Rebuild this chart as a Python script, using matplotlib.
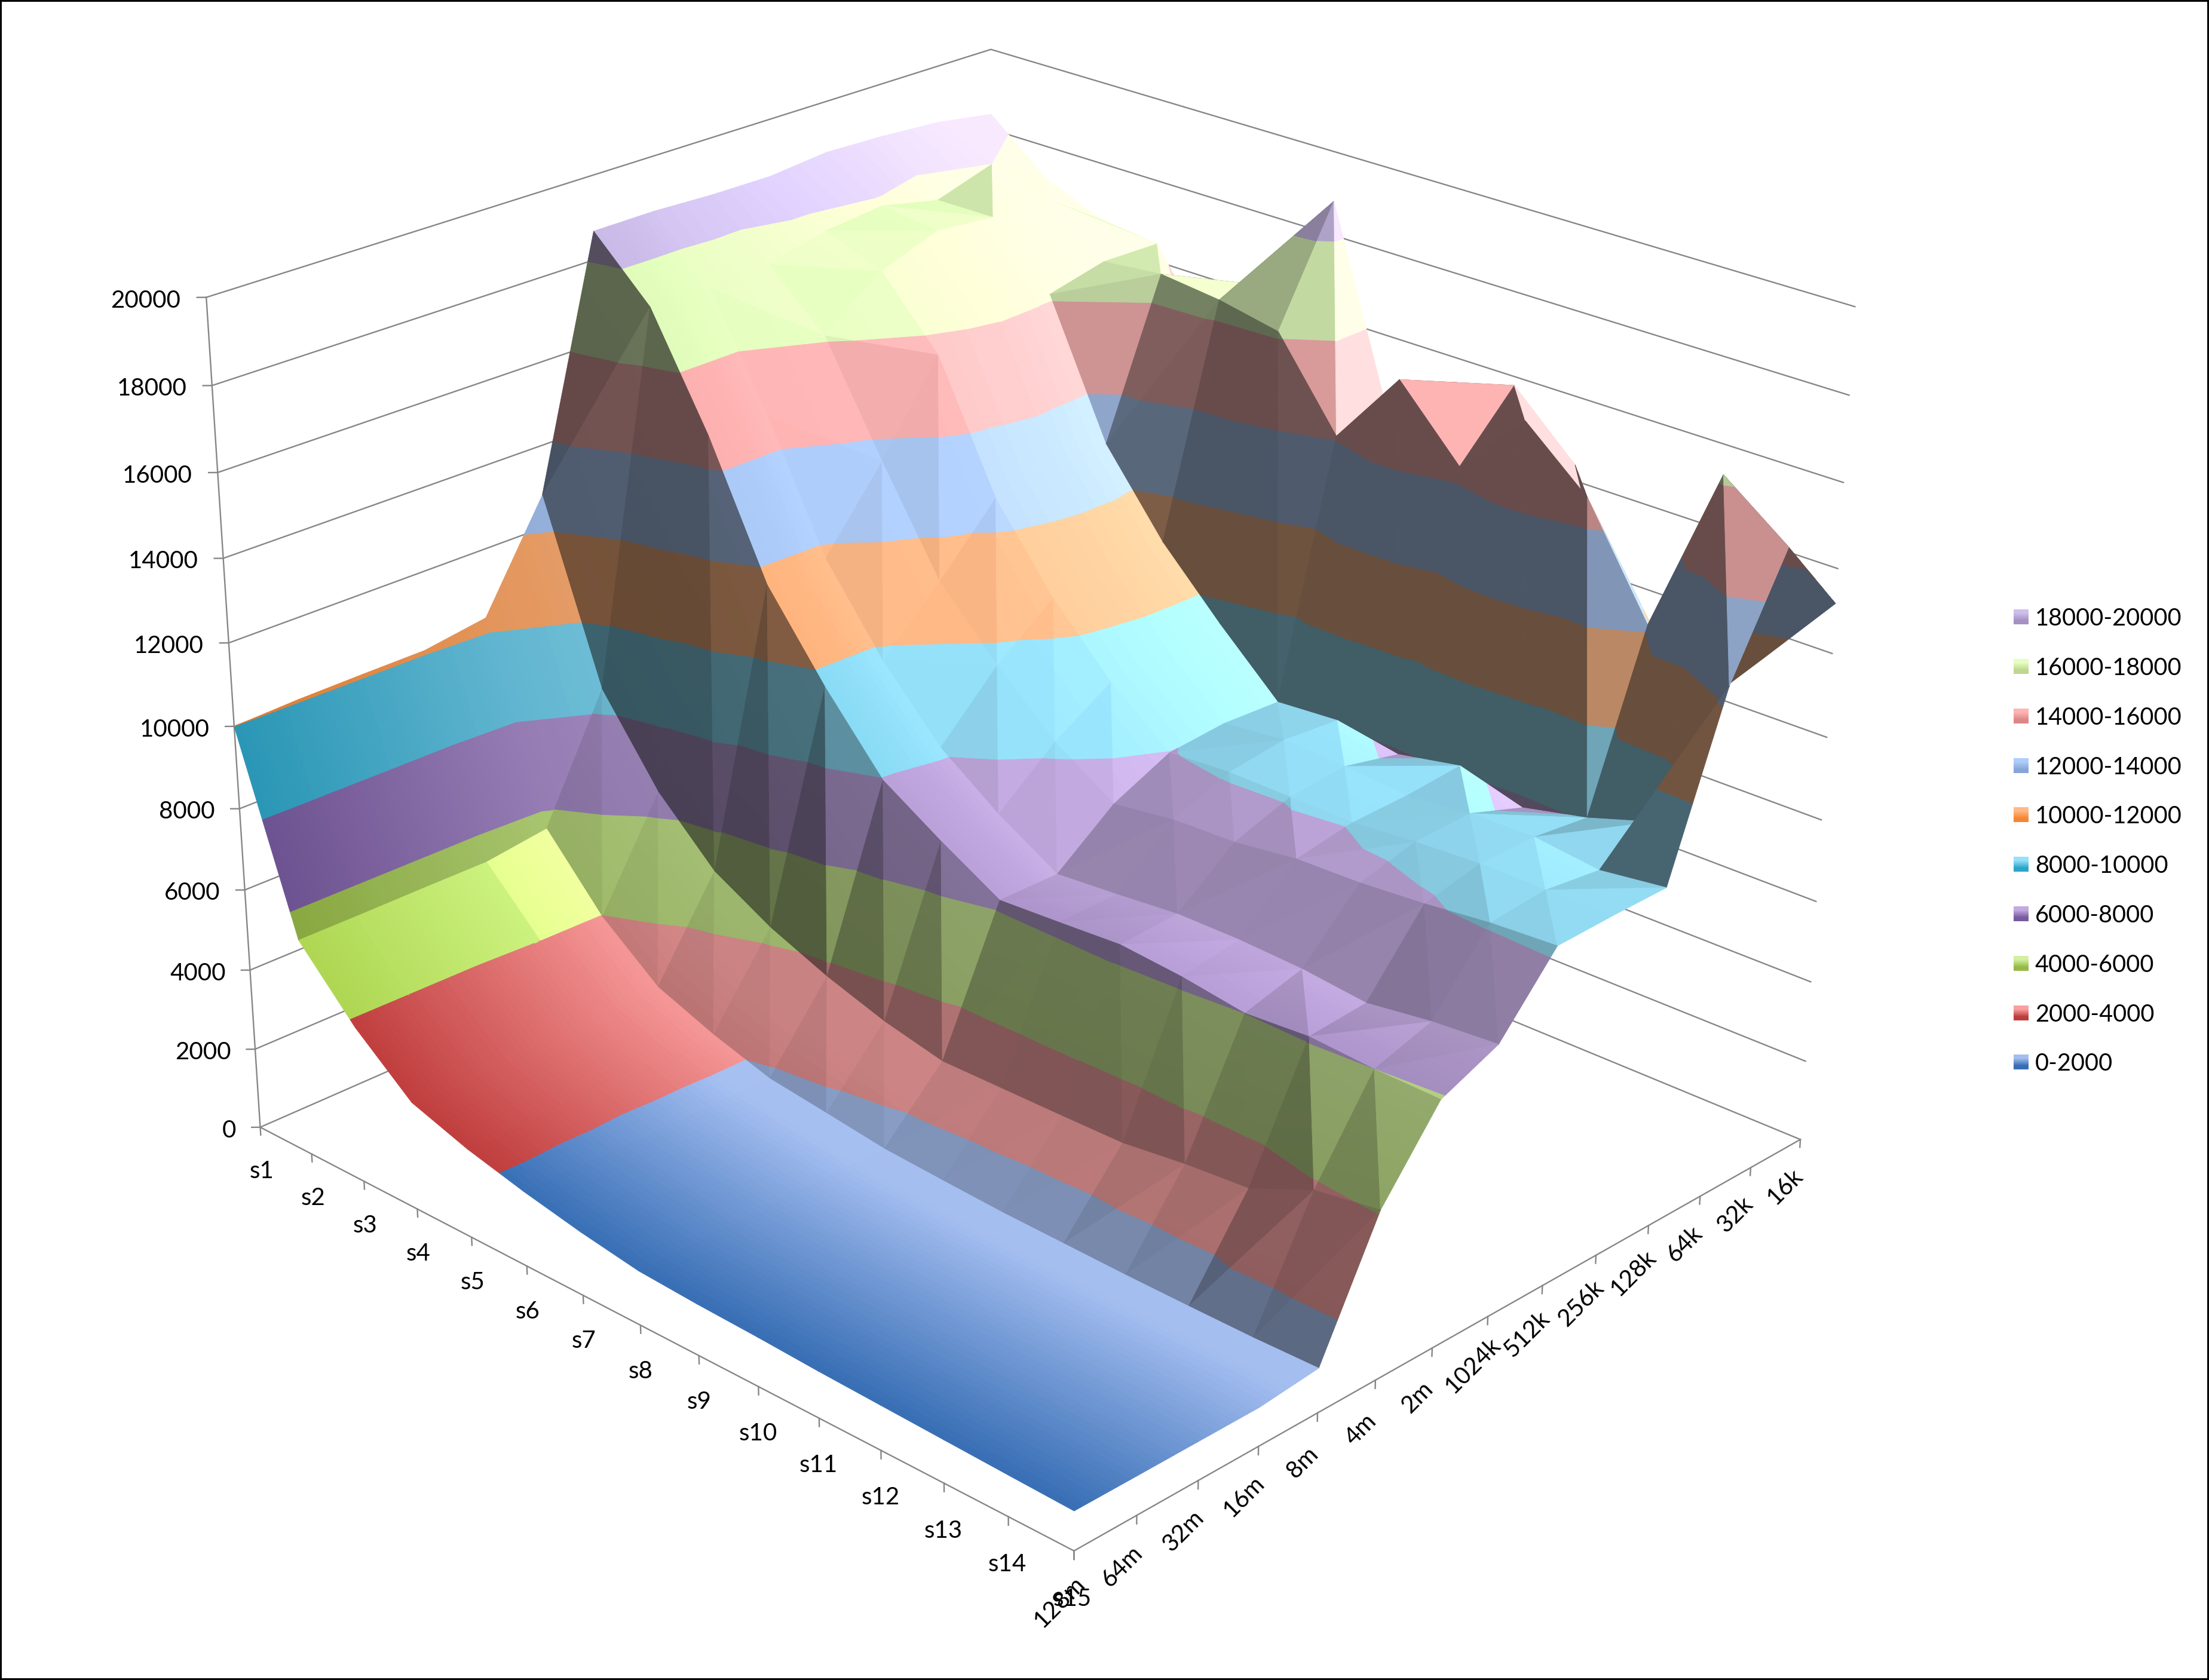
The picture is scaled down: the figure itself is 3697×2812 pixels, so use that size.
# 3D surface of the score per stride (s1..s15) and working set size,
# coloured in 2000-wide bands like a spreadsheet surface chart.
import numpy as np
import matplotlib
matplotlib.use("Agg")
import matplotlib.pyplot as plt
from mpl_toolkits.mplot3d.art3d import Poly3DCollection

plt.rcParams['font.family'] = ['Lato', 'DejaVu Sans']

sizes = ['128m', '64m', '32m', '16m', '8m', '4m', '2m', '1024k', '512k', '256k', '128k', '64k', '32k', '16k']
strides = ['s1', 's2', 's3', 's4', 's5', 's6', 's7', 's8', 's9', 's10', 's11', 's12', 's13', 's14', 's15']

# one list per stride, values run from 128m to 16k
s1 = [10000, 10060, 10080, 10090, 10320, 12790, 18680, 18690, 18630, 18620, 18760, 18710, 18610, 18380]
s2 = [5380, 5380, 5390, 5390, 5600, 8510, 17330, 17300, 17390, 17730, 17880, 17560, 18000, 17200]
s3 = [3860, 3870, 3880, 3950, 3970, 6500, 14730, 14690, 16130, 17210, 17710, 17580, 17560, 16600]
s4 = [2670, 2680, 2700, 2750, 2820, 5100, 11630, 11710, 13550, 15640, 16300, 16140, 16470, 16440]
s5 = [2200, 2210, 2220, 2240, 2260, 4300, 9680, 9730, 11120, 12630, 13180, 12910, 16620, 14300]
s6 = [1850, 1830, 1810, 1810, 1810, 3700, 7960, 8150, 9600, 10680, 11000, 10970, 16450, 16300]
s7 = [1560, 1570, 1590, 1600, 1610, 3220, 7050, 7090, 8270, 9160, 9410, 9450, 16150, 18820]
s8 = [1330, 1340, 1370, 1390, 1400, 2880, 6210, 6210, 7320, 7980, 8110, 8050, 14090, 14010]
s9 = [1250, 1260, 1280, 1290, 1300, 2880, 6290, 6330, 7530, 8080, 8270, 8160, 15950, 15300]
s10 = [1200, 1200, 1210, 1210, 1210, 2880, 6380, 6470, 7580, 8060, 8200, 7890, 14360, 15790]
s11 = [1130, 1140, 1150, 1160, 1160, 2890, 6240, 6470, 7780, 8030, 8070, 8190, 15950, 14380]
s12 = [1080, 1090, 1100, 1100, 1110, 3070, 6010, 6400, 7820, 8170, 8230, 7750, 14640, 9500]
s13 = [1030, 1040, 1060, 1070, 1080, 3180, 6110, 6230, 7940, 8250, 8260, 8100, 12150, 9500]
s14 = [980, 1000, 1020, 1040, 1060, 3840, 6000, 6440, 8110, 8240, 8070, 8600, 16200, 11330]
s15 = [934, 930, 930, 930, 1076, 4080, 5960, 6560, 8200, 8250, 8270, 12400, 15050, 13180]
values = np.array([s1, s2, s3, s4, s5, s6, s7, s8, s9, s10, s11, s12, s13, s14, s15], dtype=float)

z_ticks = [0, 2000, 4000, 6000, 8000, 10000, 12000, 14000, 16000, 18000, 20000]
band_names = ['0-2000', '2000-4000', '4000-6000', '6000-8000', '8000-10000', '10000-12000',
              '12000-14000', '14000-16000', '16000-18000', '18000-20000']
band_light = ['#A5BEF0', '#FAA0A0', '#D2F0A0', '#C3AAE1', '#96E1FA', '#FFB987', '#AFCDFA', '#FFB4B4', '#E4FFBE', '#CDBEEB']
band_dark = ['#376EB4', '#BE3C3C', '#96B946', '#785AA0', '#2DA5C8', '#F58732', '#87A5D7', '#DC8787', '#BED791', '#A591C3']
band_rate = [3.5, 4.5, 7, 7, 7, 7, 7, 7, 7, 7]

W, H = 3697, 2812
fig = plt.figure(figsize=(W / 100, H / 100), dpi=100)
fig.patch.set_facecolor('white')

# camera fitted to the box corners: (stride, size, height/20000) -> pixel
world = [(0, 0, 0), (14, 0, 0), (14, 13, 0), (0, 0, 1), (14, 13, 1), (0, 13, 1), (0, 0, .5), (14, 13, .5), (7, 0, 0), (14, 7, 0)]
pix = [(436, 1886), (1797, 2594), (3013, 1905), (346, 497), (3104, 513), (1658, 83), (391, 1216), (3058, 1235), (1072, 2220), (2490, 2206)]
rows = []
for (X, Y, Z), (u, v) in zip(world, pix):
    rows.append([X, Y, Z, 1, 0, 0, 0, 0, -u * X, -u * Y, -u * Z, -u])
    rows.append([0, 0, 0, 0, X, Y, Z, 1, -v * X, -v * Y, -v * Z, -v])
P = np.linalg.svd(np.array(rows))[2][-1].reshape(3, 4)
P = P / P[2, 3]
eye = np.linalg.svd(P)[2][-1]
eye = eye[:3] / eye[3]


def project(x, y, z):
    h = P @ np.array([x, y, z, 1.0])
    return h[0] / h[2], h[1] / h[2]


# square axes bigger than the figure height so nothing gets clipped
tall = W / H
ax = fig.add_axes([0, -(tall - 1) / 2, 1, tall], projection='3d', computed_zorder=False)
ax.set_axis_off()
ax.set_autoscale_on(False)


def camera_proj():
    inv = ax.transData.inverted()
    o = inv.transform((0, 0))
    ex = inv.transform((1, 0))[0] - o[0]
    ey = inv.transform((0, 1))[1] - o[1]
    return np.array([ex * P[0] + o[0] * P[2],
                     ey * (H * P[2] - P[1]) + o[1] * P[2],
                     [0, 0, 0, -1.0],
                     P[2]])


ax.get_proj = camera_proj


def clip(poly, axis, lo, hi):
    for limit, sign in ((lo, 1), (hi, -1)):
        out = []
        n = len(poly)
        for k in range(n):
            a, b = poly[k], poly[(k + 1) % n]
            da = sign * (a[axis] - limit)
            db = sign * (b[axis] - limit)
            if da >= 0:
                out.append(a)
            if da * db < 0:
                out.append(a + (b - a) * da / (da - db))
        poly = out
        if len(poly) < 3:
            return []
    return poly


def rgb(name):
    return np.array(matplotlib.colors.to_rgb(name))


light_dir = np.array([.7, .2, .68])
shade_x = [-.2, .1, .27, .55, .7]
shade_y = [.36, .5, .72, .86, 1.0]


def facet_shade(tri):
    a, b, c = np.array(tri)
    # underside of the sheet seen from the camera
    raw = np.cross(b - a, c - a)
    if raw[2] < 0:
        raw = -raw
    if raw @ (eye - (a + b + c) / 3) < 0:
        return .37, 0.0
    scale = np.array([1, 1, 20000 / 1430.0])
    n = np.cross((b - a) * scale, (c - a) * scale)
    if n[2] < 0:
        n = -n
    n = n / np.linalg.norm(n)
    score = n @ light_dir
    s = float(np.interp(score, shade_x, shade_y))
    h = float(np.interp(score, [.72, .86], [0, 1]))
    # faces climbing hard towards the small sizes fall into shadow
    s = max(s * float(np.interp(-n[1] / n[2], [2.4, 4.2], [1, .65])), .37)
    if max(p[1] for p in tri) <= 5:
        # the low size plateau: steep steps stay dull, gentle ones lift a little
        if n[2] < .4:
            s, h = min(s, .9), 0.0
        elif max(p[1] for p in tri) <= 4:
            s = 1.3 if min(p[1] for p in tri) >= 3 else 1.15
    return s, h


def band_colour(band, j, s, h):
    t = min(j / band_rate[band], 1.0)
    base = rgb(band_dark[band]) * (1 - t) + rgb(band_light[band]) * t
    if band < 2:
        s = min(s, 1.0)
    # highlights only build up towards the small sizes
    h = h * float(np.interp(j, [6.5, 12], [.05, 1]))
    c = base * s + .06 * max(1 - s, 0) + .17 * h
    return tuple(np.clip(c, 0, 1))


def draw_triangle(tri, order):
    s, h = facet_shade(tri)
    polys, cols = [], []
    zs = [p[2] * 20000 for p in tri]
    js = [p[1] for p in tri]
    for band in range(10):
        if max(zs) <= band * 2000 or min(zs) >= (band + 1) * 2000:
            continue
        part = clip([np.array(p, dtype=float) for p in tri], 2, band * .1, (band + 1) * .1)
        if not part:
            continue
        # thin strips along the size axis carry the gradient
        step = .1 if min(js) < 7 else .25
        for e in np.arange(min(js), max(js) - .01, step):
            strip = clip(part, 1, e, e + step)
            if strip:
                polys.append(np.array(strip))
                cols.append(band_colour(band, e + step / 2, s, h))
    if polys:
        pc = Poly3DCollection(polys, facecolors=cols, edgecolors=cols, linewidths=.7, zorder=3 + order * .001)
        ax.add_collection3d(pc, autolim=False)


# walls
grid_col = '#868686'
for z in z_ticks:
    Z = z / 20000
    ax.plot([0, 0, 14], [0, 13, 13], [Z, Z, Z], color=grid_col, lw=1.7, zorder=1)
    ax.plot([-.075, 0], [-.075, 0], [Z, Z], color=grid_col, lw=1.7, zorder=1)
ax.plot([0, 0], [0, 0], [0, 1], color=grid_col, lw=1.7, zorder=1)
ax.plot([0, 14, 14], [0, 0, 13], [0, 0, 0], color=grid_col, lw=1.7, zorder=1)
for i in range(15):
    ax.plot([i, i], [0, 0], [0, -.01], color=grid_col, lw=1.7, zorder=1)
for j in range(14):
    ax.plot([14, 14], [j, j], [0, -.01], color=grid_col, lw=1.7, zorder=1)

# surface, back to front
Zv = values / 20000
order = 0
for i in range(14):
    for j in range(12, -1, -1):
        p00 = (i, j, Zv[i, j])
        p10 = (i + 1, j, Zv[i + 1, j])
        p01 = (i, j + 1, Zv[i, j + 1])
        p11 = (i + 1, j + 1, Zv[i + 1, j + 1])
        # the crease follows the higher diagonal
        if Zv[i + 1, j] + Zv[i, j + 1] >= Zv[i, j] + Zv[i + 1, j + 1]:
            tris = [(p00, p10, p01), (p10, p11, p01)]
        else:
            tris = [(p00, p11, p01), (p00, p10, p11)]
        for tri in tris:
            draw_triangle(tri, order)
            order += 1

# labels, legend and frame sit on a flat pixel-space layer
top = fig.add_axes([0, 0, 1, 1], zorder=5)
top.patch.set_visible(False)
font = 29
for z in z_ticks:
    x, y = project(-.21, -.21, z / 20000)
    top.text(x, y + 5, str(z), ha='right', va='center', fontsize=font)
for i, name in enumerate(strides):
    x, y = project(i, 0, -.054)
    top.text(x - 2, y + 4, name, ha='center', va='center', fontsize=font)
for j, name in enumerate(sizes):
    x, y = project(14 - .13, j - .13, -.058)
    top.text(x + 4, y + 3, name, ha='center', va='center', rotation=45, fontsize=font)

for band, name in enumerate(band_names):
    yc = 1778 - band * 82.8
    grad = np.array([rgb(band_light[band]), rgb(band_dark[band])])[:, None, :]
    top.imshow(grad, extent=(3370, 3395, yc + 12.5, yc - 12.5), aspect='auto', interpolation='bilinear')
    top.text(3406, yc + 3, name, ha='left', va='center', fontsize=font - .5)

top.add_patch(plt.Rectangle((0, 0), W, H, fill=False, ec='black', lw=4.3))
top.set_xlim(0, W)
top.set_ylim(H, 0)
top.axis('off')

fig.savefig('out.png', dpi=100)
